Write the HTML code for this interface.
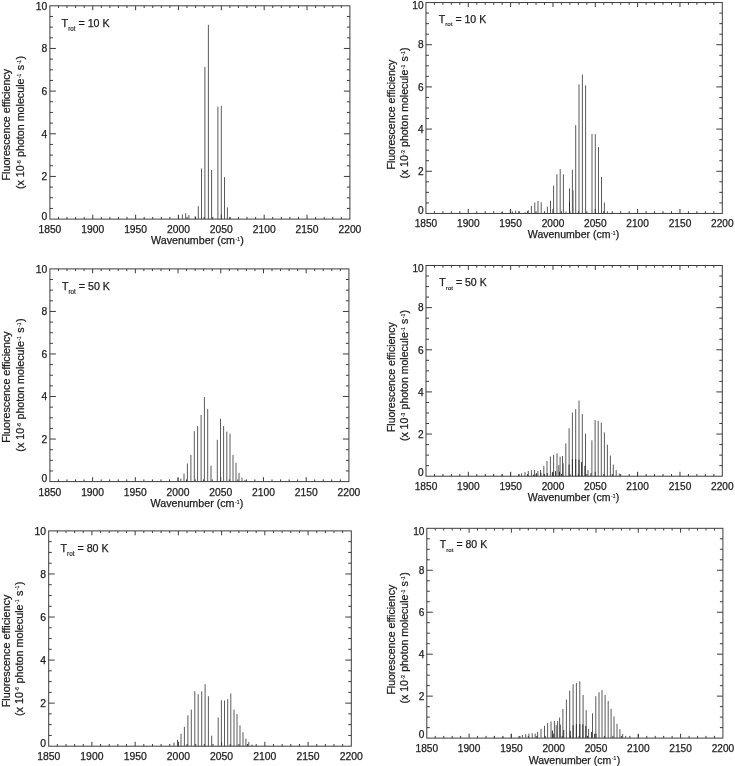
<!DOCTYPE html>
<html><head><meta charset="utf-8"><title>Fluorescence efficiency spectra</title>
<style>html,body{margin:0;padding:0;background:#fff}svg{display:block}text{font-family:"Liberation Sans",sans-serif;fill:#1c1c1c;stroke:#1c1c1c;stroke-width:0.25px}tspan.s{stroke-width:0.15px}</style></head><body>
<svg width="735" height="766" viewBox="0 0 735 766">
<rect width="735" height="766" fill="#fff"/>
<g>
<path d="M178.4 219.1V215.3M182.4 219.1V214.5M185.7 219.1V213.2M188.9 219.1V215.1M195.2 219.1V216.2M198.3 219.1V206.2M201.5 219.1V168.5M204.9 219.1V66.9M208.4 219.1V24.8M211.6 219.1V170.0M217.9 219.1V106.6M221.3 219.1V105.9M224.5 219.1V177.1M227.4 219.1V207.4M230.2 219.1V217.2" stroke="#5a5a5a" stroke-width="1" fill="none"/>
<path d="M58.47 219.10v-2.2M58.47 5.80v2.2M67.04 219.10v-2.2M67.04 5.80v2.2M75.61 219.10v-2.2M75.61 5.80v2.2M84.19 219.10v-2.2M84.19 5.80v2.2M92.76 219.10v-4.4M92.76 5.80v4.4M101.33 219.10v-2.2M101.33 5.80v2.2M109.90 219.10v-2.2M109.90 5.80v2.2M118.47 219.10v-2.2M118.47 5.80v2.2M127.04 219.10v-2.2M127.04 5.80v2.2M135.61 219.10v-4.4M135.61 5.80v4.4M144.19 219.10v-2.2M144.19 5.80v2.2M152.76 219.10v-2.2M152.76 5.80v2.2M161.33 219.10v-2.2M161.33 5.80v2.2M169.90 219.10v-2.2M169.90 5.80v2.2M178.47 219.10v-4.4M178.47 5.80v4.4M187.04 219.10v-2.2M187.04 5.80v2.2M195.61 219.10v-2.2M195.61 5.80v2.2M204.19 219.10v-2.2M204.19 5.80v2.2M212.76 219.10v-2.2M212.76 5.80v2.2M221.33 219.10v-4.4M221.33 5.80v4.4M229.90 219.10v-2.2M229.90 5.80v2.2M238.47 219.10v-2.2M238.47 5.80v2.2M247.04 219.10v-2.2M247.04 5.80v2.2M255.61 219.10v-2.2M255.61 5.80v2.2M264.19 219.10v-4.4M264.19 5.80v4.4M272.76 219.10v-2.2M272.76 5.80v2.2M281.33 219.10v-2.2M281.33 5.80v2.2M289.90 219.10v-2.2M289.90 5.80v2.2M298.47 219.10v-2.2M298.47 5.80v2.2M307.04 219.10v-4.4M307.04 5.80v4.4M315.61 219.10v-2.2M315.61 5.80v2.2M324.19 219.10v-2.2M324.19 5.80v2.2M332.76 219.10v-2.2M332.76 5.80v2.2M341.33 219.10v-2.2M341.33 5.80v2.2M49.90 208.44h3.0M349.90 208.44h-3.0M49.90 197.77h3.0M349.90 197.77h-3.0M49.90 187.10h3.0M349.90 187.10h-3.0M49.90 176.44h6.0M349.90 176.44h-6.0M49.90 165.78h3.0M349.90 165.78h-3.0M49.90 155.11h3.0M349.90 155.11h-3.0M49.90 144.44h3.0M349.90 144.44h-3.0M49.90 133.78h6.0M349.90 133.78h-6.0M49.90 123.12h3.0M349.90 123.12h-3.0M49.90 112.45h3.0M349.90 112.45h-3.0M49.90 101.78h3.0M349.90 101.78h-3.0M49.90 91.12h6.0M349.90 91.12h-6.0M49.90 80.46h3.0M349.90 80.46h-3.0M49.90 69.79h3.0M349.90 69.79h-3.0M49.90 59.12h3.0M349.90 59.12h-3.0M49.90 48.46h6.0M349.90 48.46h-6.0M49.90 37.80h3.0M349.90 37.80h-3.0M49.90 27.13h3.0M349.90 27.13h-3.0M49.90 16.47h3.0M349.90 16.47h-3.0" stroke="#3c3c3c" stroke-width="1" fill="none"/>
<rect x="49.90" y="5.80" width="300.00" height="213.30" fill="none" stroke="#3c3c3c" stroke-width="1"/>
<text x="49.9" y="232.8" font-size="10.30" text-anchor="middle">1850</text>
<text x="92.8" y="232.8" font-size="10.30" text-anchor="middle">1900</text>
<text x="135.6" y="232.8" font-size="10.30" text-anchor="middle">1950</text>
<text x="178.5" y="232.8" font-size="10.30" text-anchor="middle">2000</text>
<text x="221.3" y="232.8" font-size="10.30" text-anchor="middle">2050</text>
<text x="264.2" y="232.8" font-size="10.30" text-anchor="middle">2100</text>
<text x="307.0" y="232.8" font-size="10.30" text-anchor="middle">2150</text>
<text x="349.9" y="232.8" font-size="10.30" text-anchor="middle">2200</text>
<text x="47.2" y="219.7" font-size="10.30" text-anchor="end">0</text>
<text x="47.2" y="180.1" font-size="10.30" text-anchor="end">2</text>
<text x="47.2" y="137.5" font-size="10.30" text-anchor="end">4</text>
<text x="47.2" y="94.8" font-size="10.30" text-anchor="end">6</text>
<text x="47.2" y="52.2" font-size="10.30" text-anchor="end">8</text>
<text x="47.2" y="9.9" font-size="10.30" text-anchor="end">10</text>
<text x="197.5" y="244.4" font-size="10.70" text-anchor="middle">Wavenumber (cm<tspan class="s" font-size="5.00" dy="-3.1" dx="0.5">-1</tspan><tspan dy="3.1" dx="0.4">)</tspan></text>
<text transform="translate(10.1 124.7) rotate(-90)" font-size="10.70" text-anchor="middle">Fluorescence efficiency</text>
<text transform="translate(24.0 122.5) rotate(-90)" font-size="10.70" text-anchor="middle">(x 10<tspan class="s" font-size="5.00" dy="-3.1" dx="0.5">-6</tspan><tspan dy="3.1" dx="0.4"> photon molecule</tspan><tspan class="s" font-size="5.00" dy="-3.1" dx="0.5">-1</tspan><tspan dy="3.1" dx="0.4"> s</tspan><tspan class="s" font-size="5.00" dy="-3.1" dx="0.5">-1</tspan><tspan dy="3.1" dx="0.4">)</tspan></text>
<text x="61.6" y="27.4" font-size="10.70">T<tspan class="s" font-size="6.30" dy="3.5">rot</tspan><tspan dy="-3.5"> = 10 K</tspan></text>
</g>
<g>
<path d="M178.0 481.6V477.9M180.8 481.6V478.6M184.0 481.6V473.6M187.4 481.6V463.5M190.9 481.6V454.9M194.3 481.6V431.2M197.6 481.6V426.1M201.1 481.6V414.9M204.4 481.6V397.0M207.7 481.6V408.9M211.0 481.6V465.7M217.3 481.6V439.8M220.5 481.6V418.7M223.6 481.6V426.1M226.8 481.6V431.6M230.0 481.6V433.6M233.0 481.6V454.9M236.0 481.6V462.8M239.0 481.6V472.8M242.0 481.6V477.6M245.0 481.6V480.1" stroke="#5a5a5a" stroke-width="1" fill="none"/>
<path d="M58.44 481.60v-2.2M58.44 268.90v2.2M66.99 481.60v-2.2M66.99 268.90v2.2M75.53 481.60v-2.2M75.53 268.90v2.2M84.07 481.60v-2.2M84.07 268.90v2.2M92.61 481.60v-4.4M92.61 268.90v4.4M101.16 481.60v-2.2M101.16 268.90v2.2M109.70 481.60v-2.2M109.70 268.90v2.2M118.24 481.60v-2.2M118.24 268.90v2.2M126.79 481.60v-2.2M126.79 268.90v2.2M135.33 481.60v-4.4M135.33 268.90v4.4M143.87 481.60v-2.2M143.87 268.90v2.2M152.41 481.60v-2.2M152.41 268.90v2.2M160.96 481.60v-2.2M160.96 268.90v2.2M169.50 481.60v-2.2M169.50 268.90v2.2M178.04 481.60v-4.4M178.04 268.90v4.4M186.59 481.60v-2.2M186.59 268.90v2.2M195.13 481.60v-2.2M195.13 268.90v2.2M203.67 481.60v-2.2M203.67 268.90v2.2M212.21 481.60v-2.2M212.21 268.90v2.2M220.76 481.60v-4.4M220.76 268.90v4.4M229.30 481.60v-2.2M229.30 268.90v2.2M237.84 481.60v-2.2M237.84 268.90v2.2M246.39 481.60v-2.2M246.39 268.90v2.2M254.93 481.60v-2.2M254.93 268.90v2.2M263.47 481.60v-4.4M263.47 268.90v4.4M272.01 481.60v-2.2M272.01 268.90v2.2M280.56 481.60v-2.2M280.56 268.90v2.2M289.10 481.60v-2.2M289.10 268.90v2.2M297.64 481.60v-2.2M297.64 268.90v2.2M306.19 481.60v-4.4M306.19 268.90v4.4M314.73 481.60v-2.2M314.73 268.90v2.2M323.27 481.60v-2.2M323.27 268.90v2.2M331.81 481.60v-2.2M331.81 268.90v2.2M340.36 481.60v-2.2M340.36 268.90v2.2M49.90 470.97h3.0M348.90 470.97h-3.0M49.90 460.33h3.0M348.90 460.33h-3.0M49.90 449.69h3.0M348.90 449.69h-3.0M49.90 439.06h6.0M348.90 439.06h-6.0M49.90 428.43h3.0M348.90 428.43h-3.0M49.90 417.79h3.0M348.90 417.79h-3.0M49.90 407.16h3.0M348.90 407.16h-3.0M49.90 396.52h6.0M348.90 396.52h-6.0M49.90 385.88h3.0M348.90 385.88h-3.0M49.90 375.25h3.0M348.90 375.25h-3.0M49.90 364.62h3.0M348.90 364.62h-3.0M49.90 353.98h6.0M348.90 353.98h-6.0M49.90 343.35h3.0M348.90 343.35h-3.0M49.90 332.71h3.0M348.90 332.71h-3.0M49.90 322.07h3.0M348.90 322.07h-3.0M49.90 311.44h6.0M348.90 311.44h-6.0M49.90 300.81h3.0M348.90 300.81h-3.0M49.90 290.17h3.0M348.90 290.17h-3.0M49.90 279.53h3.0M348.90 279.53h-3.0" stroke="#3c3c3c" stroke-width="1" fill="none"/>
<rect x="49.90" y="268.90" width="299.00" height="212.70" fill="none" stroke="#3c3c3c" stroke-width="1"/>
<text x="49.9" y="495.6" font-size="10.30" text-anchor="middle">1850</text>
<text x="92.6" y="495.6" font-size="10.30" text-anchor="middle">1900</text>
<text x="135.3" y="495.6" font-size="10.30" text-anchor="middle">1950</text>
<text x="178.0" y="495.6" font-size="10.30" text-anchor="middle">2000</text>
<text x="220.8" y="495.6" font-size="10.30" text-anchor="middle">2050</text>
<text x="263.5" y="495.6" font-size="10.30" text-anchor="middle">2100</text>
<text x="306.2" y="495.6" font-size="10.30" text-anchor="middle">2150</text>
<text x="348.9" y="495.6" font-size="10.30" text-anchor="middle">2200</text>
<text x="47.2" y="482.2" font-size="10.30" text-anchor="end">0</text>
<text x="47.2" y="442.8" font-size="10.30" text-anchor="end">2</text>
<text x="47.2" y="400.2" font-size="10.30" text-anchor="end">4</text>
<text x="47.2" y="357.7" font-size="10.30" text-anchor="end">6</text>
<text x="47.2" y="315.1" font-size="10.30" text-anchor="end">8</text>
<text x="47.2" y="273.0" font-size="10.30" text-anchor="end">10</text>
<text x="197.0" y="507.0" font-size="10.70" text-anchor="middle">Wavenumber (cm<tspan class="s" font-size="5.00" dy="-3.1" dx="0.5">-1</tspan><tspan dy="3.1" dx="0.4">)</tspan></text>
<text transform="translate(10.4 387.1) rotate(-90)" font-size="10.70" text-anchor="middle">Fluorescence efficiency</text>
<text transform="translate(23.6 385.1) rotate(-90)" font-size="10.70" text-anchor="middle">(x 10<tspan class="s" font-size="5.00" dy="-3.1" dx="0.5">-6</tspan><tspan dy="3.1" dx="0.4"> photon molecule</tspan><tspan class="s" font-size="5.00" dy="-3.1" dx="0.5">-1</tspan><tspan dy="3.1" dx="0.4"> s</tspan><tspan class="s" font-size="5.00" dy="-3.1" dx="0.5">-1</tspan><tspan dy="3.1" dx="0.4">)</tspan></text>
<text x="61.9" y="290.1" font-size="10.70">T<tspan class="s" font-size="6.30" dy="3.5">rot</tspan><tspan dy="-3.5"> = 50 K</tspan></text>
</g>
<g>
<path d="M174.0 746.2V742.6M177.5 746.2V739.7M181.0 746.2V733.7M184.4 746.2V726.8M187.9 746.2V715.3M191.3 746.2V709.6M194.8 746.2V691.2M198.2 746.2V694.2M201.7 746.2V691.3M205.1 746.2V684.2M208.4 746.2V696.2M211.7 746.2V735.7M218.2 746.2V717.5M221.4 746.2V700.2M224.5 746.2V700.5M227.7 746.2V699.2M230.8 746.2V693.5M234.0 746.2V709.6M237.0 746.2V714.0M240.0 746.2V725.4M243.0 746.2V732.2M245.9 746.2V738.6M248.8 746.2V741.9M252.0 746.2V744.5" stroke="#5a5a5a" stroke-width="1" fill="none"/>
<path d="M57.35 746.20v-2.2M57.35 530.90v2.2M65.99 746.20v-2.2M65.99 530.90v2.2M74.64 746.20v-2.2M74.64 530.90v2.2M83.28 746.20v-2.2M83.28 530.90v2.2M91.93 746.20v-4.4M91.93 530.90v4.4M100.57 746.20v-2.2M100.57 530.90v2.2M109.22 746.20v-2.2M109.22 530.90v2.2M117.87 746.20v-2.2M117.87 530.90v2.2M126.51 746.20v-2.2M126.51 530.90v2.2M135.16 746.20v-4.4M135.16 530.90v4.4M143.80 746.20v-2.2M143.80 530.90v2.2M152.45 746.20v-2.2M152.45 530.90v2.2M161.09 746.20v-2.2M161.09 530.90v2.2M169.74 746.20v-2.2M169.74 530.90v2.2M178.39 746.20v-4.4M178.39 530.90v4.4M187.03 746.20v-2.2M187.03 530.90v2.2M195.68 746.20v-2.2M195.68 530.90v2.2M204.32 746.20v-2.2M204.32 530.90v2.2M212.97 746.20v-2.2M212.97 530.90v2.2M221.61 746.20v-4.4M221.61 530.90v4.4M230.26 746.20v-2.2M230.26 530.90v2.2M238.91 746.20v-2.2M238.91 530.90v2.2M247.55 746.20v-2.2M247.55 530.90v2.2M256.20 746.20v-2.2M256.20 530.90v2.2M264.84 746.20v-4.4M264.84 530.90v4.4M273.49 746.20v-2.2M273.49 530.90v2.2M282.13 746.20v-2.2M282.13 530.90v2.2M290.78 746.20v-2.2M290.78 530.90v2.2M299.43 746.20v-2.2M299.43 530.90v2.2M308.07 746.20v-4.4M308.07 530.90v4.4M316.72 746.20v-2.2M316.72 530.90v2.2M325.36 746.20v-2.2M325.36 530.90v2.2M334.01 746.20v-2.2M334.01 530.90v2.2M342.65 746.20v-2.2M342.65 530.90v2.2M48.70 735.44h3.0M351.30 735.44h-3.0M48.70 724.67h3.0M351.30 724.67h-3.0M48.70 713.90h3.0M351.30 713.90h-3.0M48.70 703.14h6.0M351.30 703.14h-6.0M48.70 692.38h3.0M351.30 692.38h-3.0M48.70 681.61h3.0M351.30 681.61h-3.0M48.70 670.85h3.0M351.30 670.85h-3.0M48.70 660.08h6.0M351.30 660.08h-6.0M48.70 649.32h3.0M351.30 649.32h-3.0M48.70 638.55h3.0M351.30 638.55h-3.0M48.70 627.78h3.0M351.30 627.78h-3.0M48.70 617.02h6.0M351.30 617.02h-6.0M48.70 606.25h3.0M351.30 606.25h-3.0M48.70 595.49h3.0M351.30 595.49h-3.0M48.70 584.73h3.0M351.30 584.73h-3.0M48.70 573.96h6.0M351.30 573.96h-6.0M48.70 563.19h3.0M351.30 563.19h-3.0M48.70 552.43h3.0M351.30 552.43h-3.0M48.70 541.66h3.0M351.30 541.66h-3.0" stroke="#3c3c3c" stroke-width="1" fill="none"/>
<rect x="48.70" y="530.90" width="302.60" height="215.30" fill="none" stroke="#3c3c3c" stroke-width="1"/>
<text x="48.7" y="760.2" font-size="10.40" text-anchor="middle">1850</text>
<text x="91.9" y="760.2" font-size="10.40" text-anchor="middle">1900</text>
<text x="135.2" y="760.2" font-size="10.40" text-anchor="middle">1950</text>
<text x="178.4" y="760.2" font-size="10.40" text-anchor="middle">2000</text>
<text x="221.6" y="760.2" font-size="10.40" text-anchor="middle">2050</text>
<text x="264.8" y="760.2" font-size="10.40" text-anchor="middle">2100</text>
<text x="308.1" y="760.2" font-size="10.40" text-anchor="middle">2150</text>
<text x="351.3" y="760.2" font-size="10.40" text-anchor="middle">2200</text>
<text x="46.0" y="746.8" font-size="10.40" text-anchor="end">0</text>
<text x="46.0" y="706.8" font-size="10.40" text-anchor="end">2</text>
<text x="46.0" y="663.8" font-size="10.40" text-anchor="end">4</text>
<text x="46.0" y="620.7" font-size="10.40" text-anchor="end">6</text>
<text x="46.0" y="577.7" font-size="10.40" text-anchor="end">8</text>
<text x="46.0" y="535.0" font-size="10.40" text-anchor="end">10</text>
<text transform="translate(9.5 651.0) rotate(-90)" font-size="10.81" text-anchor="middle">Fluorescence efficiency</text>
<text transform="translate(22.5 648.8) rotate(-90)" font-size="10.81" text-anchor="middle">(x 10<tspan class="s" font-size="5.05" dy="-3.1" dx="0.5">-6</tspan><tspan dy="3.1" dx="0.4"> photon molecule</tspan><tspan class="s" font-size="5.05" dy="-3.1" dx="0.5">-1</tspan><tspan dy="3.1" dx="0.4"> s</tspan><tspan class="s" font-size="5.05" dy="-3.1" dx="0.5">-1</tspan><tspan dy="3.1" dx="0.4">)</tspan></text>
<text x="60.5" y="552.1" font-size="10.70">T<tspan class="s" font-size="6.36" dy="3.5">rot</tspan><tspan dy="-3.5"> = 80 K</tspan></text>
</g>
<g>
<path d="M502.1 213.4V212.1M510.3 213.4V209.9M512.4 213.4V211.4M515.7 213.4V210.6M518.9 213.4V211.1M525.0 213.4V212.3M528.3 213.4V210.4M531.4 213.4V205.9M534.8 213.4V202.5M538.0 213.4V201.0M541.2 213.4V202.4M544.4 213.4V211.8M547.4 213.4V206.5M550.5 213.4V200.8M553.6 213.4V185.6M556.9 213.4V174.2M560.2 213.4V169.1M563.4 213.4V174.4M566.0 213.4V211.4M569.5 213.4V188.4M572.4 213.4V169.8M573.0 213.4V190.4M575.7 213.4V125.2M579.0 213.4V84.4M582.4 213.4V74.6M585.6 213.4V85.4M592.0 213.4V134.0M595.3 213.4V134.2M598.5 213.4V147.1M601.5 213.4V176.8M604.4 213.4V202.5M607.4 213.4V211.4" stroke="#5a5a5a" stroke-width="1" fill="none"/>
<path d="M569.5 213.4V201.4" stroke="#2e2e2e" stroke-width="1" fill="none"/>
<path d="M434.42 213.45v-2.2M434.42 2.55v2.2M442.88 213.45v-2.2M442.88 2.55v2.2M451.35 213.45v-2.2M451.35 2.55v2.2M459.82 213.45v-2.2M459.82 2.55v2.2M468.29 213.45v-4.4M468.29 2.55v4.4M476.75 213.45v-2.2M476.75 2.55v2.2M485.22 213.45v-2.2M485.22 2.55v2.2M493.69 213.45v-2.2M493.69 2.55v2.2M502.15 213.45v-2.2M502.15 2.55v2.2M510.62 213.45v-4.4M510.62 2.55v4.4M519.09 213.45v-2.2M519.09 2.55v2.2M527.56 213.45v-2.2M527.56 2.55v2.2M536.02 213.45v-2.2M536.02 2.55v2.2M544.49 213.45v-2.2M544.49 2.55v2.2M552.96 213.45v-4.4M552.96 2.55v4.4M561.42 213.45v-2.2M561.42 2.55v2.2M569.89 213.45v-2.2M569.89 2.55v2.2M578.36 213.45v-2.2M578.36 2.55v2.2M586.83 213.45v-2.2M586.83 2.55v2.2M595.29 213.45v-4.4M595.29 2.55v4.4M603.76 213.45v-2.2M603.76 2.55v2.2M612.23 213.45v-2.2M612.23 2.55v2.2M620.69 213.45v-2.2M620.69 2.55v2.2M629.16 213.45v-2.2M629.16 2.55v2.2M637.63 213.45v-4.4M637.63 2.55v4.4M646.10 213.45v-2.2M646.10 2.55v2.2M654.56 213.45v-2.2M654.56 2.55v2.2M663.03 213.45v-2.2M663.03 2.55v2.2M671.50 213.45v-2.2M671.50 2.55v2.2M679.96 213.45v-4.4M679.96 2.55v4.4M688.43 213.45v-2.2M688.43 2.55v2.2M696.90 213.45v-2.2M696.90 2.55v2.2M705.37 213.45v-2.2M705.37 2.55v2.2M713.83 213.45v-2.2M713.83 2.55v2.2M425.95 202.91h3.0M722.30 202.91h-3.0M425.95 192.36h3.0M722.30 192.36h-3.0M425.95 181.81h3.0M722.30 181.81h-3.0M425.95 171.27h6.0M722.30 171.27h-6.0M425.95 160.72h3.0M722.30 160.72h-3.0M425.95 150.18h3.0M722.30 150.18h-3.0M425.95 139.63h3.0M722.30 139.63h-3.0M425.95 129.09h6.0M722.30 129.09h-6.0M425.95 118.55h3.0M722.30 118.55h-3.0M425.95 108.00h3.0M722.30 108.00h-3.0M425.95 97.46h3.0M722.30 97.46h-3.0M425.95 86.91h6.0M722.30 86.91h-6.0M425.95 76.37h3.0M722.30 76.37h-3.0M425.95 65.82h3.0M722.30 65.82h-3.0M425.95 55.28h3.0M722.30 55.28h-3.0M425.95 44.73h6.0M722.30 44.73h-6.0M425.95 34.19h3.0M722.30 34.19h-3.0M425.95 23.64h3.0M722.30 23.64h-3.0M425.95 13.10h3.0M722.30 13.10h-3.0" stroke="#3c3c3c" stroke-width="1" fill="none"/>
<rect x="425.95" y="2.55" width="296.35" height="210.90" fill="none" stroke="#3c3c3c" stroke-width="1"/>
<text x="425.9" y="226.9" font-size="10.15" text-anchor="middle">1850</text>
<text x="468.3" y="226.9" font-size="10.15" text-anchor="middle">1900</text>
<text x="510.6" y="226.9" font-size="10.15" text-anchor="middle">1950</text>
<text x="553.0" y="226.9" font-size="10.15" text-anchor="middle">2000</text>
<text x="595.3" y="226.9" font-size="10.15" text-anchor="middle">2050</text>
<text x="637.6" y="226.9" font-size="10.15" text-anchor="middle">2100</text>
<text x="680.0" y="226.9" font-size="10.15" text-anchor="middle">2150</text>
<text x="722.3" y="226.9" font-size="10.15" text-anchor="middle">2200</text>
<text x="423.6" y="213.6" font-size="10.15" text-anchor="end">0</text>
<text x="423.6" y="175.0" font-size="10.15" text-anchor="end">2</text>
<text x="423.6" y="132.8" font-size="10.15" text-anchor="end">4</text>
<text x="423.6" y="90.6" font-size="10.15" text-anchor="end">6</text>
<text x="423.6" y="48.4" font-size="10.15" text-anchor="end">8</text>
<text x="423.6" y="8.9" font-size="10.15" text-anchor="end">10</text>
<text x="573.6" y="238.4" font-size="10.54" text-anchor="middle">Wavenumber (cm<tspan class="s" font-size="4.92" dy="-3.1" dx="0.5">-1</tspan><tspan dy="3.1" dx="0.4">)</tspan></text>
<text transform="translate(394.6 114.6) rotate(-90)" font-size="10.54" text-anchor="middle">Fluorescence efficiency</text>
<text transform="translate(407.6 113.0) rotate(-90)" font-size="10.54" text-anchor="middle">(x 10<tspan class="s" font-size="4.92" dy="-3.1" dx="0.5">-3</tspan><tspan dy="3.1" dx="0.4"> photon molecule</tspan><tspan class="s" font-size="4.92" dy="-3.1" dx="0.5">-1</tspan><tspan dy="3.1" dx="0.4"> s</tspan><tspan class="s" font-size="4.92" dy="-3.1" dx="0.5">-1</tspan><tspan dy="3.1" dx="0.4">)</tspan></text>
<text x="438.8" y="22.8" font-size="10.54">T<tspan class="s" font-size="6.21" dy="3.5">rot</tspan><tspan dy="-3.5"> = 10 K</tspan></text>
</g>
<g>
<path d="M493.5 476.2V474.5M501.9 476.2V474.5M510.5 476.2V472.2M518.6 476.2V474.2M521.6 476.2V473.3M525.0 476.2V472.1M528.3 476.2V471.0M531.4 476.2V470.2M534.6 476.2V470.0M537.9 476.2V471.0M540.5 476.2V470.0M543.8 476.2V465.9M547.0 476.2V461.0M550.4 476.2V456.5M553.6 476.2V454.9M557.0 476.2V453.4M558.8 476.2V465.2M560.1 476.2V456.7M562.5 476.2V456.0M563.2 476.2V463.3M565.8 476.2V443.4M569.1 476.2V428.2M572.4 476.2V412.5M575.7 476.2V409.2M579.0 476.2V400.5M582.3 476.2V414.0M585.5 476.2V433.7M588.0 476.2V470.1M591.9 476.2V440.3M595.1 476.2V420.1M598.2 476.2V420.9M601.3 476.2V422.6M604.4 476.2V432.4M607.4 476.2V444.7M610.4 476.2V455.6M613.3 476.2V464.6M616.2 476.2V470.1M619.3 476.2V473.5M637.5 476.2V472.2" stroke="#5a5a5a" stroke-width="1" fill="none"/>
<path d="M533.6 476.2V474.7M536.6 476.2V473.2M540.9 476.2V472.7M544.2 476.2V474.2M547.3 476.2V473.2M552.4 476.2V472.2M555.6 476.2V471.2M559.5 476.2V471.7M569.1 476.2V464.6M572.4 476.2V459.2M575.7 476.2V459.2M579.0 476.2V459.7M581.6 476.2V462.2M584.9 476.2V465.8M591.0 476.2V473.2" stroke="#2e2e2e" stroke-width="1" fill="none"/>
<path d="M434.47 476.20v-2.2M434.47 265.50v2.2M442.93 476.20v-2.2M442.93 265.50v2.2M451.40 476.20v-2.2M451.40 265.50v2.2M459.86 476.20v-2.2M459.86 265.50v2.2M468.33 476.20v-4.4M468.33 265.50v4.4M476.79 476.20v-2.2M476.79 265.50v2.2M485.26 476.20v-2.2M485.26 265.50v2.2M493.73 476.20v-2.2M493.73 265.50v2.2M502.19 476.20v-2.2M502.19 265.50v2.2M510.66 476.20v-4.4M510.66 265.50v4.4M519.12 476.20v-2.2M519.12 265.50v2.2M527.59 476.20v-2.2M527.59 265.50v2.2M536.05 476.20v-2.2M536.05 265.50v2.2M544.52 476.20v-2.2M544.52 265.50v2.2M552.99 476.20v-4.4M552.99 265.50v4.4M561.45 476.20v-2.2M561.45 265.50v2.2M569.92 476.20v-2.2M569.92 265.50v2.2M578.38 476.20v-2.2M578.38 265.50v2.2M586.85 476.20v-2.2M586.85 265.50v2.2M595.31 476.20v-4.4M595.31 265.50v4.4M603.78 476.20v-2.2M603.78 265.50v2.2M612.25 476.20v-2.2M612.25 265.50v2.2M620.71 476.20v-2.2M620.71 265.50v2.2M629.18 476.20v-2.2M629.18 265.50v2.2M637.64 476.20v-4.4M637.64 265.50v4.4M646.11 476.20v-2.2M646.11 265.50v2.2M654.57 476.20v-2.2M654.57 265.50v2.2M663.04 476.20v-2.2M663.04 265.50v2.2M671.51 476.20v-2.2M671.51 265.50v2.2M679.97 476.20v-4.4M679.97 265.50v4.4M688.44 476.20v-2.2M688.44 265.50v2.2M696.90 476.20v-2.2M696.90 265.50v2.2M705.37 476.20v-2.2M705.37 265.50v2.2M713.83 476.20v-2.2M713.83 265.50v2.2M426.00 465.66h3.0M722.30 465.66h-3.0M426.00 455.13h3.0M722.30 455.13h-3.0M426.00 444.59h3.0M722.30 444.59h-3.0M426.00 434.06h6.0M722.30 434.06h-6.0M426.00 423.52h3.0M722.30 423.52h-3.0M426.00 412.99h3.0M722.30 412.99h-3.0M426.00 402.45h3.0M722.30 402.45h-3.0M426.00 391.92h6.0M722.30 391.92h-6.0M426.00 381.38h3.0M722.30 381.38h-3.0M426.00 370.85h3.0M722.30 370.85h-3.0M426.00 360.31h3.0M722.30 360.31h-3.0M426.00 349.78h6.0M722.30 349.78h-6.0M426.00 339.25h3.0M722.30 339.25h-3.0M426.00 328.71h3.0M722.30 328.71h-3.0M426.00 318.17h3.0M722.30 318.17h-3.0M426.00 307.64h6.0M722.30 307.64h-6.0M426.00 297.11h3.0M722.30 297.11h-3.0M426.00 286.57h3.0M722.30 286.57h-3.0M426.00 276.03h3.0M722.30 276.03h-3.0" stroke="#3c3c3c" stroke-width="1" fill="none"/>
<rect x="426.00" y="265.50" width="296.30" height="210.70" fill="none" stroke="#3c3c3c" stroke-width="1"/>
<text x="426.0" y="489.7" font-size="10.15" text-anchor="middle">1850</text>
<text x="468.3" y="489.7" font-size="10.15" text-anchor="middle">1900</text>
<text x="510.7" y="489.7" font-size="10.15" text-anchor="middle">1950</text>
<text x="553.0" y="489.7" font-size="10.15" text-anchor="middle">2000</text>
<text x="595.3" y="489.7" font-size="10.15" text-anchor="middle">2050</text>
<text x="637.6" y="489.7" font-size="10.15" text-anchor="middle">2100</text>
<text x="680.0" y="489.7" font-size="10.15" text-anchor="middle">2150</text>
<text x="722.3" y="489.7" font-size="10.15" text-anchor="middle">2200</text>
<text x="423.7" y="476.4" font-size="10.15" text-anchor="end">0</text>
<text x="423.7" y="437.8" font-size="10.15" text-anchor="end">2</text>
<text x="423.7" y="395.6" font-size="10.15" text-anchor="end">4</text>
<text x="423.7" y="353.5" font-size="10.15" text-anchor="end">6</text>
<text x="423.7" y="311.3" font-size="10.15" text-anchor="end">8</text>
<text x="423.7" y="271.8" font-size="10.15" text-anchor="end">10</text>
<text x="573.6" y="501.4" font-size="10.54" text-anchor="middle">Wavenumber (cm<tspan class="s" font-size="4.92" dy="-3.1" dx="0.5">-1</tspan><tspan dy="3.1" dx="0.4">)</tspan></text>
<text transform="translate(394.7 377.2) rotate(-90)" font-size="10.54" text-anchor="middle">Fluorescence efficiency</text>
<text transform="translate(407.6 375.5) rotate(-90)" font-size="10.54" text-anchor="middle">(x 10<tspan class="s" font-size="4.92" dy="-3.1" dx="0.5">-3</tspan><tspan dy="3.1" dx="0.4"> photon molecule</tspan><tspan class="s" font-size="4.92" dy="-3.1" dx="0.5">-1</tspan><tspan dy="3.1" dx="0.4"> s</tspan><tspan class="s" font-size="4.92" dy="-3.1" dx="0.5">-1</tspan><tspan dy="3.1" dx="0.4">)</tspan></text>
<text x="439.3" y="286.0" font-size="10.54">T<tspan class="s" font-size="6.21" dy="3.5">rot</tspan><tspan dy="-3.5"> = 50 K</tspan></text>
</g>
<g>
<path d="M494.3 738.1V736.2M502.7 738.1V736.7M511.1 738.1V734.1M519.0 738.1V736.0M522.4 738.1V734.9M525.7 738.1V734.1M528.9 738.1V733.6M532.2 738.1V733.3M535.2 738.1V733.6M537.6 738.1V731.9M541.0 738.1V728.9M544.5 738.1V725.8M547.6 738.1V723.0M551.0 738.1V721.5M554.4 738.1V721.0M556.2 738.1V725.1M557.6 738.1V721.2M559.6 738.1V717.5M560.4 738.1V724.6M562.9 738.1V709.0M566.4 738.1V699.5M569.7 738.1V690.7M573.1 738.1V684.2M576.4 738.1V683.0M579.8 738.1V681.3M583.1 738.1V694.9M586.2 738.1V710.2M588.6 738.1V728.9M592.5 738.1V713.4M595.8 738.1V696.2M599.0 738.1V692.2M602.0 738.1V690.1M605.1 738.1V695.0M608.2 738.1V701.0M611.1 738.1V708.7M614.0 738.1V716.4M617.0 738.1V723.8M619.9 738.1V729.3M622.7 738.1V733.8M625.7 738.1V735.9M638.2 738.1V734.4" stroke="#5a5a5a" stroke-width="1" fill="none"/>
<path d="M552.4 738.1V730.6M563.7 738.1V730.1M570.2 738.1V730.8M573.1 738.1V725.2M576.4 738.1V724.1M579.8 738.1V724.1M582.8 738.1V724.4M585.8 738.1V725.9M591.6 738.1V732.1M594.7 738.1V733.8" stroke="#2e2e2e" stroke-width="1" fill="none"/>
<path d="M435.26 738.10v-2.2M435.26 528.30v2.2M443.72 738.10v-2.2M443.72 528.30v2.2M452.18 738.10v-2.2M452.18 528.30v2.2M460.64 738.10v-2.2M460.64 528.30v2.2M469.10 738.10v-4.4M469.10 528.30v4.4M477.56 738.10v-2.2M477.56 528.30v2.2M486.02 738.10v-2.2M486.02 528.30v2.2M494.48 738.10v-2.2M494.48 528.30v2.2M502.94 738.10v-2.2M502.94 528.30v2.2M511.40 738.10v-4.4M511.40 528.30v4.4M519.86 738.10v-2.2M519.86 528.30v2.2M528.32 738.10v-2.2M528.32 528.30v2.2M536.78 738.10v-2.2M536.78 528.30v2.2M545.24 738.10v-2.2M545.24 528.30v2.2M553.70 738.10v-4.4M553.70 528.30v4.4M562.16 738.10v-2.2M562.16 528.30v2.2M570.62 738.10v-2.2M570.62 528.30v2.2M579.08 738.10v-2.2M579.08 528.30v2.2M587.54 738.10v-2.2M587.54 528.30v2.2M596.00 738.10v-4.4M596.00 528.30v4.4M604.46 738.10v-2.2M604.46 528.30v2.2M612.92 738.10v-2.2M612.92 528.30v2.2M621.38 738.10v-2.2M621.38 528.30v2.2M629.84 738.10v-2.2M629.84 528.30v2.2M638.30 738.10v-4.4M638.30 528.30v4.4M646.76 738.10v-2.2M646.76 528.30v2.2M655.22 738.10v-2.2M655.22 528.30v2.2M663.68 738.10v-2.2M663.68 528.30v2.2M672.14 738.10v-2.2M672.14 528.30v2.2M680.60 738.10v-4.4M680.60 528.30v4.4M689.06 738.10v-2.2M689.06 528.30v2.2M697.52 738.10v-2.2M697.52 528.30v2.2M705.98 738.10v-2.2M705.98 528.30v2.2M714.44 738.10v-2.2M714.44 528.30v2.2M426.80 727.61h3.0M722.90 727.61h-3.0M426.80 717.12h3.0M722.90 717.12h-3.0M426.80 706.63h3.0M722.90 706.63h-3.0M426.80 696.14h6.0M722.90 696.14h-6.0M426.80 685.65h3.0M722.90 685.65h-3.0M426.80 675.16h3.0M722.90 675.16h-3.0M426.80 664.67h3.0M722.90 664.67h-3.0M426.80 654.18h6.0M722.90 654.18h-6.0M426.80 643.69h3.0M722.90 643.69h-3.0M426.80 633.20h3.0M722.90 633.20h-3.0M426.80 622.71h3.0M722.90 622.71h-3.0M426.80 612.22h6.0M722.90 612.22h-6.0M426.80 601.73h3.0M722.90 601.73h-3.0M426.80 591.24h3.0M722.90 591.24h-3.0M426.80 580.75h3.0M722.90 580.75h-3.0M426.80 570.26h6.0M722.90 570.26h-6.0M426.80 559.77h3.0M722.90 559.77h-3.0M426.80 549.28h3.0M722.90 549.28h-3.0M426.80 538.79h3.0M722.90 538.79h-3.0" stroke="#3c3c3c" stroke-width="1" fill="none"/>
<rect x="426.80" y="528.30" width="296.10" height="209.80" fill="none" stroke="#3c3c3c" stroke-width="1"/>
<text x="426.8" y="751.7" font-size="10.15" text-anchor="middle">1850</text>
<text x="469.1" y="751.7" font-size="10.15" text-anchor="middle">1900</text>
<text x="511.4" y="751.7" font-size="10.15" text-anchor="middle">1950</text>
<text x="553.7" y="751.7" font-size="10.15" text-anchor="middle">2000</text>
<text x="596.0" y="751.7" font-size="10.15" text-anchor="middle">2050</text>
<text x="638.3" y="751.7" font-size="10.15" text-anchor="middle">2100</text>
<text x="680.6" y="751.7" font-size="10.15" text-anchor="middle">2150</text>
<text x="722.9" y="751.7" font-size="10.15" text-anchor="middle">2200</text>
<text x="424.5" y="738.3" font-size="10.15" text-anchor="end">0</text>
<text x="424.5" y="699.8" font-size="10.15" text-anchor="end">2</text>
<text x="424.5" y="657.9" font-size="10.15" text-anchor="end">4</text>
<text x="424.5" y="615.9" font-size="10.15" text-anchor="end">6</text>
<text x="424.5" y="574.0" font-size="10.15" text-anchor="end">8</text>
<text x="424.5" y="534.6" font-size="10.15" text-anchor="end">10</text>
<text x="574.4" y="763.5" font-size="10.54" text-anchor="middle">Wavenumber (cm<tspan class="s" font-size="4.92" dy="-3.1" dx="0.5">-1</tspan><tspan dy="3.1" dx="0.4">)</tspan></text>
<text transform="translate(395.3 639.7) rotate(-90)" font-size="10.54" text-anchor="middle">Fluorescence efficiency</text>
<text transform="translate(408.2 637.9) rotate(-90)" font-size="10.54" text-anchor="middle">(x 10<tspan class="s" font-size="4.92" dy="-3.1" dx="0.5">-3</tspan><tspan dy="3.1" dx="0.4"> photon molecule</tspan><tspan class="s" font-size="4.92" dy="-3.1" dx="0.5">-1</tspan><tspan dy="3.1" dx="0.4"> s</tspan><tspan class="s" font-size="4.92" dy="-3.1" dx="0.5">-1</tspan><tspan dy="3.1" dx="0.4">)</tspan></text>
<text x="439.8" y="548.3" font-size="10.54">T<tspan class="s" font-size="6.21" dy="3.5">rot</tspan><tspan dy="-3.5"> = 80 K</tspan></text>
</g>
</svg></body></html>
